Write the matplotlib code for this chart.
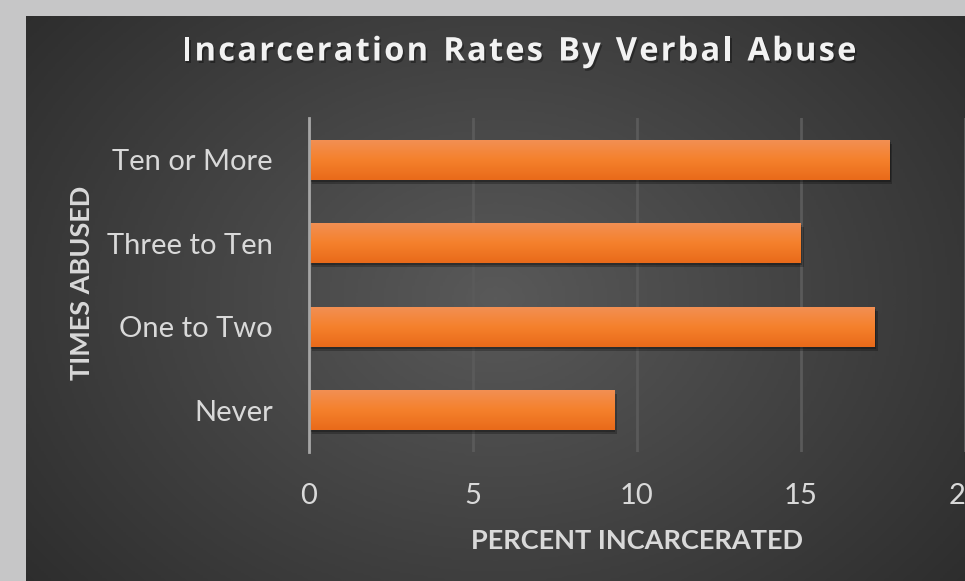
import numpy as np
import matplotlib
matplotlib.use("Agg")
import matplotlib.pyplot as plt
import matplotlib.patheffects as pe
from matplotlib.colors import LinearSegmentedColormap

# data
categories = ["Never", "One to Two", "Three to Ten", "Ten or More"]
percent = [9.3, 17.25, 15.0, 17.7]
x_ticks = [0, 5, 10, 15, 20]
title = "Incarceration Rates By Verbal Abuse"

plt.rcParams['font.family'] = ['Lato', 'DejaVu Sans']

W, H = 965, 581
fig = plt.figure(figsize=(W / 100, H / 100), dpi=100)
fig.patch.set_facecolor("#c6c6c7")

# dark chart area with radial gradient
bg = fig.add_axes([26 / W, 0, 1 - 26 / W, 1 - 16 / H], zorder=0)
gx, gy = np.meshgrid(np.linspace(0, 1, 400), np.linspace(0, 1, 250))
r = np.sqrt(((gx - 0.5) / 0.75) ** 2 + ((gy - 0.5) / 0.95) ** 2)
bg_cmap = LinearSegmentedColormap.from_list("bg", ["#595959", "#262626"])
bg.imshow(np.clip(r, 0, 1), cmap=bg_cmap, aspect="auto", extent=[0, 1, 0, 1], vmin=0, vmax=1)
bg.axis("off")

ax = fig.add_axes([309 / W, 1 - 452 / H, 1 - 309 / W, (452 - 118) / H], zorder=1)
ax.patch.set_alpha(0)

y = np.arange(len(categories))
bars = ax.barh(y, percent, height=0.48, color="#f47c2c", zorder=3,
               path_effects=[pe.SimplePatchShadow(offset=(2, -3), shadow_rgbFace="black", alpha=0.25),
                             pe.SimplePatchShadow(offset=(1, -1.5), shadow_rgbFace="black", alpha=0.25),
                             pe.Normal()])

# vertical gradient on each bar
bar_cmap = LinearSegmentedColormap.from_list("bar", ["#e96a1a", "#f5812c", "#f29055"])
grad = np.linspace(0, 1, 100).reshape(-1, 1)
for b in bars:
    x0, y0 = b.get_x(), b.get_y()
    im = ax.imshow(grad, cmap=bar_cmap, aspect="auto", origin="lower",
                   extent=[x0, x0 + b.get_width(), y0, y0 + b.get_height()], zorder=4)
    im.set_clip_path(b)

ax.set_xlim(0, 20)
ax.set_ylim(-0.5, len(categories) - 0.5)
ax.set_xticks(x_ticks)
ax.set_yticks(y)
ax.set_yticklabels(categories)
ax.xaxis.grid(True, color="#5a5a5a", linewidth=2, zorder=1)
ax.set_axisbelow(True)
for s in ["top", "right", "bottom"]:
    ax.spines[s].set_visible(False)
ax.spines["left"].set_color("#a6a6a6")
ax.spines["left"].set_linewidth(2)
ax.spines["left"].set_zorder(5)
ax.tick_params(axis="both", length=0, colors="#d9d9d9", labelsize=21)
ax.tick_params(axis="x", pad=22)
ax.tick_params(axis="y", pad=26)

# title with letter spacing: place each character after measuring
fig.canvas.draw()
rend = fig.canvas.get_renderer()
tprops = dict(color="#f2f2f2", fontsize=23.5, fontweight="bold", va="center", family=["Open Sans", "DejaVu Sans"],
              path_effects=[pe.withSimplePatchShadow(offset=(1.2, -1.8), shadow_rgbFace="black", alpha=0.35)])
spacing = 2.2
widths = []
for ch in title:
    t = fig.text(0, 0, ch if ch != " " else "n", **tprops)
    widths.append(t.get_window_extent(rend).width * (0.5 if ch == " " else 1))
    t.remove()
total = sum(widths) + spacing * (len(title) - 1)
xpos = 519 - total / 2
for ch, w in zip(title, widths):
    if ch != " ":
        fig.text(xpos / W, 1 - 52 / H, ch, ha="left", **tprops)
    xpos += w + spacing

fig.text(637 / W, 1 - 541 / H, "PERCENT INCARCERATED", color="#d9d9d9",
         fontsize=19.5, fontweight="bold", ha="center", va="center")
fig.text(82 / W, 1 - 283 / H, "TIMES ABUSED", color="#d9d9d9", rotation=90,
         fontsize=19.5, fontweight="bold", ha="center", va="center")

fig.savefig("out.png", dpi=100, facecolor=fig.get_facecolor())
